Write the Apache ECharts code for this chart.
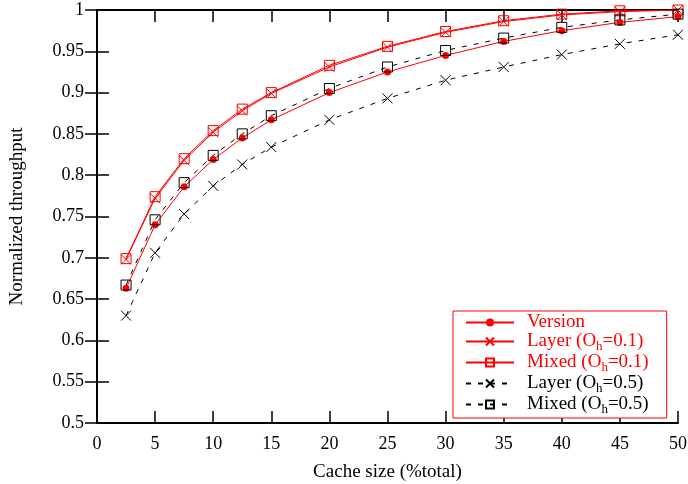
<!DOCTYPE html>
<html>
<head>
<meta charset="utf-8">
<script src="https://cdn.jsdelivr.net/npm/echarts@6/dist/echarts.min.js"></script>
<style>html,body{margin:0;padding:0;background:#fff}#c{width:688px;height:484px}</style>
</head>
<body>
<div id="c"></div>
<script>
var cacheSize = [2.5, 5, 7.5, 10, 12.5, 15, 20, 25, 30, 35, 40, 45, 50];
var version   = [0.663, 0.740, 0.786, 0.819, 0.845, 0.867, 0.900, 0.925, 0.945, 0.962, 0.975, 0.985, 0.992];
var layer01   = [0.698, 0.772, 0.818, 0.852, 0.878, 0.899, 0.931, 0.955, 0.973, 0.986, 0.994, 0.998, 1.000];
var mixed01   = [0.699, 0.774, 0.820, 0.854, 0.880, 0.900, 0.933, 0.956, 0.974, 0.987, 0.995, 0.999, 1.000];
var layer05   = [0.630, 0.706, 0.753, 0.787, 0.813, 0.834, 0.867, 0.893, 0.915, 0.931, 0.946, 0.959, 0.970];
var mixed05   = [0.667, 0.746, 0.791, 0.824, 0.850, 0.872, 0.905, 0.931, 0.951, 0.966, 0.979, 0.988, 0.995];
var seriesNames = ['Version', 'Layer (Oh=0.1)', 'Mixed (Oh=0.1)', 'Layer (Oh=0.5)', 'Mixed (Oh=0.5)'];
var xTicks = {min: 0, max: 50, interval: 5};
var yTicks = {min: 0.5, max: 1, interval: 0.05};

function pairs(vals) { return cacheSize.map(function (x, i) { return [x, vals[i]]; }); }

var FONT = '"Liberation Serif", "DejaVu Serif", serif';
var CROSS = 'path://M0,0L10,10M10,0L0,10';
var RED = '#ff0000';

function mkSeries(name, vals, color, dashed, symbol, size, filled) {
  return {
    name: name, type: 'line', data: pairs(vals),
    symbol: symbol, symbolSize: size,
    lineStyle: {color: color, width: 1, type: dashed ? [5, 7] : 'solid'},
    itemStyle: filled ? {color: color} : {color: 'rgba(0,0,0,0)', borderColor: color, borderWidth: 1},
    emphasis: {disabled: true},
    animation: false,
    z: 2
  };
}

var chart = echarts.init(document.getElementById('c'), null, {renderer: 'canvas'});

var axisCommon = {
  axisLine: {show: true, lineStyle: {color: '#000', width: 2}},
  axisTick: {show: true, inside: true, length: 12, lineStyle: {color: '#000', width: 1.5}},
  splitLine: {show: false}
};

chart.setOption({
  animation: false,
  backgroundColor: '#fff',
  grid: {left: 97, right: 10, top: 10, bottom: 61, containLabel: false, outerBoundsMode: 'none'},
  xAxis: [
    Object.assign({type: 'value', min: xTicks.min, max: xTicks.max, interval: xTicks.interval,
      name: 'Cache size (%total)', nameLocation: 'middle', nameGap: 40,
      nameTextStyle: {fontFamily: FONT, fontSize: 19, color: '#000'},
      axisLabel: {fontFamily: FONT, fontSize: 18, color: '#000', margin: 12}
    }, axisCommon),
    Object.assign({type: 'value', position: 'top', min: xTicks.min, max: xTicks.max, interval: xTicks.interval,
      axisLabel: {show: false}}, axisCommon)
  ],
  yAxis: [
    Object.assign({type: 'value', min: yTicks.min, max: yTicks.max, interval: yTicks.interval,
      name: 'Normalized throughput', nameLocation: 'middle', nameGap: 70,
      nameTextStyle: {fontFamily: FONT, fontSize: 19, color: '#000'},
      axisLabel: {fontFamily: FONT, fontSize: 18, color: '#000', margin: 13}
    }, axisCommon),
    Object.assign({type: 'value', position: 'right', min: yTicks.min, max: yTicks.max, interval: yTicks.interval,
      axisLabel: {show: false}}, axisCommon)
  ],
  legend: {
    orient: 'vertical', left: 453, top: 311,
    padding: [2, 18, 2, 12], itemGap: 0, itemWidth: 48, itemHeight: 10,
    borderColor: RED, borderWidth: 1, backgroundColor: '#fff',
    data: seriesNames.map(function (n, i) {
      return {name: n, textStyle: {color: i < 3 ? RED : '#000'}};
    }),
    textStyle: {
      fontFamily: FONT, fontSize: 19,
      rich: {
        g: {width: 8, lineHeight: 19},
        r: {fontFamily: FONT, fontSize: 19, color: RED, lineHeight: 19},
        rs: {fontFamily: FONT, fontSize: 13, color: RED, height: 9, lineHeight: 9, padding: [10, 0, 0, 0]},
        k: {fontFamily: FONT, fontSize: 19, color: '#000', lineHeight: 19},
        ks: {fontFamily: FONT, fontSize: 13, color: '#000', height: 9, lineHeight: 9, padding: [10, 0, 0, 0]}
      }
    },
    formatter: function (name) {
      var i = seriesNames.indexOf(name);
      var c = i < 3 ? 'r' : 'k';
      var m = name.match(/^(.*\(O)h(=.*)$/);
      if (!m) return '{g|}{' + c + '|' + name + '}';
      return '{g|}{' + c + '|' + m[1] + '}{' + c + 's|h}{' + c + '|' + m[2] + '}';
    }
  },
  series: [
    mkSeries(seriesNames[0], version, RED, false, 'circle', 7, true),
    mkSeries(seriesNames[1], layer01, RED, false, CROSS, 10, false),
    mkSeries(seriesNames[2], mixed01, RED, false, 'rect', 10, false),
    mkSeries(seriesNames[3], layer05, '#000', true, CROSS, 10, false),
    mkSeries(seriesNames[4], mixed05, '#000', true, 'rect', 10, false)
  ]
});
</script>
</body>
</html>
